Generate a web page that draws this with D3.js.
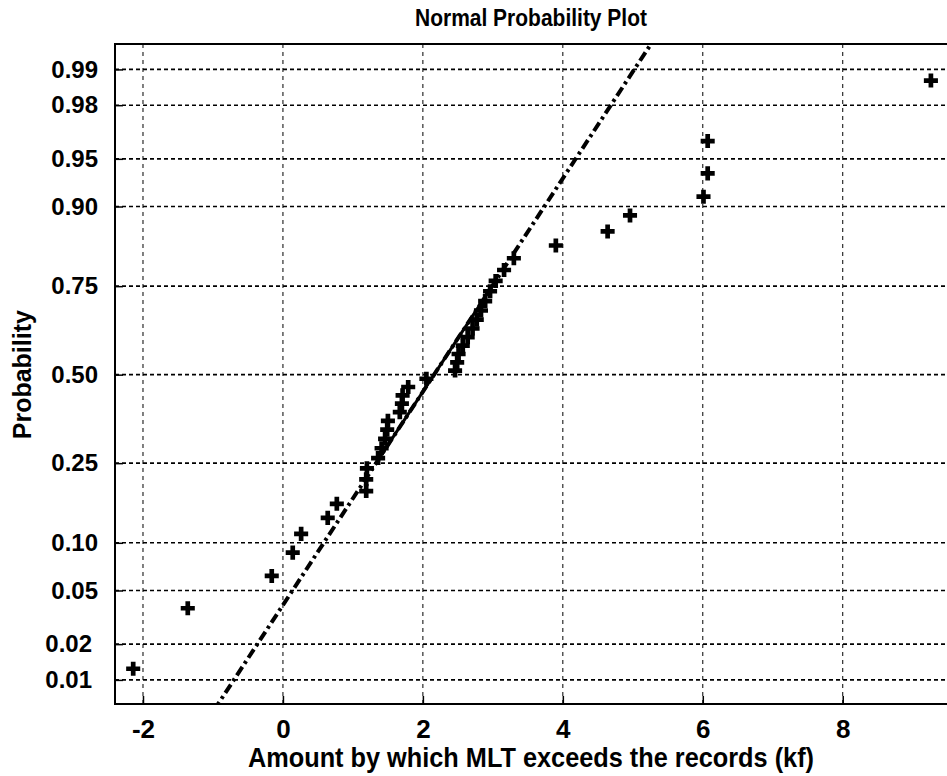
<!DOCTYPE html>
<html>
<head>
<meta charset="utf-8">
<script src="https://cdn.jsdelivr.net/npm/d3@7"></script>
<style>
  body { margin: 0; background: #fff; }
  svg { display: block; }
</style>
</head>
<body>
<div id="chart"></div>
<script>
// sorted sample values (kf)
var sampleValues = [-2.14, -1.36, -0.16, 0.14, 0.26, 0.64, 0.77, 1.19, 1.19, 1.20,
                    1.36, 1.41, 1.46, 1.49, 1.50, 1.67, 1.70, 1.71, 1.79, 2.05,
                    2.46, 2.49, 2.51, 2.57, 2.64, 2.71, 2.77, 2.83, 2.89, 2.96,
                    3.04, 3.16, 3.30, 3.90, 4.64, 4.96, 6.01, 6.07, 6.07, 9.26];
var xTicks = [-2, 0, 2, 4, 6, 8];
var probTicks = [0.01, 0.02, 0.05, 0.10, 0.25, 0.50, 0.75, 0.90, 0.95, 0.98, 0.99];
var probTickLabels = ["0.01", "0.02", "0.05", "0.10", "0.25", "0.50", "0.75", "0.90", "0.95", "0.98", "0.99"];
// fitted normal line (mean, sigma) as drawn
var fitMean = 2.16, fitSigma = 1.23;

var width = 947, height = 776,
    margin = {top: 44, right: 0, bottom: 72, left: 115};

// inverse normal cdf (Acklam)
function probit(p) {
  var a = [-39.69683028665376, 220.9460984245205, -275.9285104469687, 138.3577518672690, -30.66479806614716, 2.506628277459239],
      b = [-54.47609879822406, 161.5858368580409, -155.6989798598866, 66.80131188771972, -13.28068155288572],
      c = [-0.007784894002430293, -0.3223964580411365, -2.400758277161838, -2.549732539343734, 4.374664141464968, 2.938163982698783],
      d = [0.007784695709041462, 0.3224671290700398, 2.445134137142996, 3.754408661907416];
  var q, r;
  if (p < 0.02425) {
    q = Math.sqrt(-2 * Math.log(p));
    return (((((c[0]*q+c[1])*q+c[2])*q+c[3])*q+c[4])*q+c[5]) / ((((d[0]*q+d[1])*q+d[2])*q+d[3])*q+1);
  } else if (p > 1 - 0.02425) {
    q = Math.sqrt(-2 * Math.log(1 - p));
    return -(((((c[0]*q+c[1])*q+c[2])*q+c[3])*q+c[4])*q+c[5]) / ((((d[0]*q+d[1])*q+d[2])*q+d[3])*q+1);
  }
  q = p - 0.5; r = q * q;
  return (((((a[0]*r+a[1])*r+a[2])*r+a[3])*r+a[4])*r+a[5])*q / (((((b[0]*r+b[1])*r+b[2])*r+b[3])*r+b[4])*r+1);
}

var svg = d3.select("#chart").append("svg")
  .attr("width", width)
  .attr("height", height);

var x = d3.scaleLinear().domain([-2.4, 9.49]).range([margin.left, width - margin.right]);
var y = d3.scaleLinear().domain([-2.51, 2.52]).range([height - margin.bottom, margin.top]);

svg.append("clipPath").attr("id", "clip")
  .append("rect")
  .attr("x", margin.left).attr("y", margin.top)
  .attr("width", width - margin.left - margin.right)
  .attr("height", height - margin.top - margin.bottom);

// grid
svg.append("g").selectAll("line")
  .data(xTicks).enter().append("line")
  .attr("x1", function(d) { return x(d); })
  .attr("x2", function(d) { return x(d); })
  .attr("y1", margin.top).attr("y2", height - margin.bottom)
  .attr("stroke", "#000").attr("stroke-width", 1)
  .attr("stroke-dasharray", "4,4");

svg.append("g").selectAll("line")
  .data(probTicks).enter().append("line")
  .attr("x1", margin.left).attr("x2", width - margin.right)
  .attr("y1", function(d) { return y(probit(d)); })
  .attr("y2", function(d) { return y(probit(d)); })
  .attr("stroke", "#000").attr("stroke-width", 1.6)
  .attr("stroke-dasharray", "4,3");

// axes
var xAxis = d3.axisBottom(x).tickValues(xTicks).tickSize(-8).tickPadding(16)
  .tickFormat(function(d) { return String(d); });
var gx = svg.append("g")
  .attr("transform", "translate(0," + (height - margin.bottom) + ")")
  .call(xAxis);
gx.select(".domain").remove();
gx.selectAll("line").attr("stroke-width", 1.5);
gx.selectAll("text")
  .attr("font-family", "'Liberation Sans', Arial, sans-serif")
  .attr("font-weight", "bold")
  .attr("font-size", 26)
  .attr("fill", "#000");

var yAxis = d3.axisLeft(y).tickValues(probTicks.map(probit)).tickSize(-8).tickPadding(17)
  .tickFormat(function(d, i) { return probTickLabels[i]; });
var gy = svg.append("g")
  .attr("transform", "translate(" + margin.left + ",0)")
  .call(yAxis);
gy.select(".domain").remove();
gy.selectAll("line").attr("stroke-width", 1.5);
gy.selectAll("text")
  .attr("font-family", "'Liberation Sans', Arial, sans-serif")
  .attr("font-weight", "bold")
  .attr("font-size", 24)
  .attr("fill", "#000")
  .attr("dx", function(d, i) { return probTicks[i] < 0.03 ? -6 : 0; });

// frame
svg.append("path")
  .attr("d", "M" + (width - margin.right) + "," + margin.top +
             "H" + margin.left + "V" + (height - margin.bottom) +
             "H" + (width - margin.right))
  .attr("fill", "none").attr("stroke", "#000").attr("stroke-width", 2);

// reference line
var plotArea = svg.append("g").attr("clip-path", "url(#clip)");
var lineX = d3.extent(sampleValues);
var q1 = fitMean + fitSigma * probit(0.25), q3 = fitMean + fitSigma * probit(0.75);
function lineY(v) { return y((v - fitMean) / fitSigma); }

plotArea.append("line")
  .attr("x1", x(lineX[0])).attr("y1", lineY(lineX[0]))
  .attr("x2", x(lineX[1])).attr("y2", lineY(lineX[1]))
  .attr("stroke", "#000").attr("stroke-width", 4)
  .attr("stroke-dasharray", "10,4,3,4");

plotArea.append("line")
  .attr("x1", x(q1)).attr("y1", lineY(q1))
  .attr("x2", x(q3)).attr("y2", lineY(q3))
  .attr("stroke", "#000").attr("stroke-width", 3);

// points
var n = sampleValues.length;
plotArea.selectAll(".pt")
  .data(sampleValues).enter().append("path")
  .attr("class", "pt")
  .attr("d", d3.symbol().type(d3.symbolCross).size(110))
  .attr("transform", function(d, i) {
    return "translate(" + x(d) + "," + y(probit((i + 0.5) / n)) + ")";
  })
  .attr("fill", "#000");

// titles
svg.append("text")
  .attr("x", (margin.left + width - margin.right) / 2)
  .attr("y", 26)
  .attr("text-anchor", "middle")
  .attr("font-family", "'Liberation Sans', Arial, sans-serif")
  .attr("font-weight", "bold")
  .attr("font-size", 24)
  .attr("textLength", 232)
  .attr("lengthAdjust", "spacingAndGlyphs")
  .text("Normal Probability Plot");

svg.append("text")
  .attr("x", (margin.left + width - margin.right) / 2)
  .attr("y", 767)
  .attr("text-anchor", "middle")
  .attr("font-family", "'Liberation Sans', Arial, sans-serif")
  .attr("font-weight", "bold")
  .attr("font-size", 28)
  .attr("textLength", 566)
  .attr("lengthAdjust", "spacingAndGlyphs")
  .text("Amount by which MLT exceeds the records (kf)");

svg.append("text")
  .attr("transform", "translate(31," + y(0) + ") rotate(-90)")
  .attr("text-anchor", "middle")
  .attr("font-family", "'Liberation Sans', Arial, sans-serif")
  .attr("font-weight", "bold")
  .attr("font-size", 25)
  .text("Probability");
</script>
</body>
</html>
